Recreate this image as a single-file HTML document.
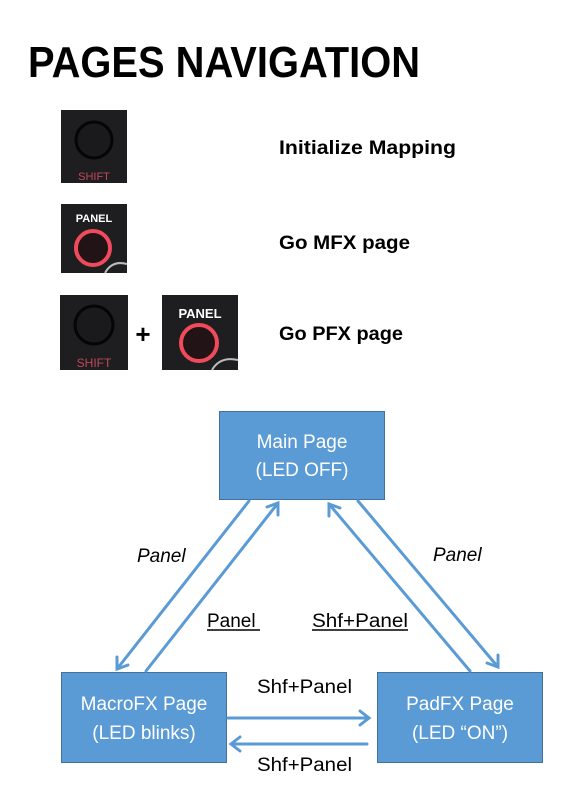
<!DOCTYPE html>
<html><head><meta charset="utf-8"><style>
html,body{margin:0;padding:0;background:#fff;}
svg{display:block;}
text{font-family:"Liberation Sans",sans-serif;}
</style></head><body>
<svg width="588" height="806" viewBox="0 0 588 806" xmlns="http://www.w3.org/2000/svg">
<defs>
<radialGradient id="red" cx="50%" cy="50%" r="50%">
<stop offset="70%" stop-color="#2a1a1c"/><stop offset="85%" stop-color="#ff5a6a"/><stop offset="100%" stop-color="#c0303f"/>
</radialGradient>
</defs>
<text x="28" y="77" font-size="44" font-weight="bold" textLength="392" lengthAdjust="spacingAndGlyphs">PAGES NAVIGATION</text>

<!-- shift 1 -->
<rect x="61" y="110" width="66" height="73" fill="#1e1e20"/>
<circle cx="94" cy="140" r="18" fill="#1a1a1c" stroke="#050505" stroke-width="3"/>
<text x="94" y="180" font-size="11" fill="#c0485a" text-anchor="middle">SHIFT</text>
<text x="279" y="154" font-size="19" font-weight="bold" textLength="177" lengthAdjust="spacingAndGlyphs">Initialize Mapping</text>

<!-- panel 1 -->
<rect x="61" y="204" width="66" height="69" fill="#1e1e20"/>
<text x="94" y="222" font-size="11" fill="#fff" text-anchor="middle" font-weight="bold">PANEL</text>
<circle cx="93" cy="248" r="17" fill="#221416" stroke="#f04a5c" stroke-width="4"/>
<path d="M105 273 Q112 260 127 264" stroke="#bbb" stroke-width="2" fill="none"/>
<text x="279" y="249" font-size="19" font-weight="bold" textLength="131" lengthAdjust="spacingAndGlyphs">Go MFX page</text>

<!-- shift 2 + panel 2 -->
<rect x="60" y="295" width="68" height="75" fill="#1e1e20"/>
<circle cx="94" cy="325" r="19" fill="#1a1a1c" stroke="#050505" stroke-width="3"/>
<text x="94" y="367" font-size="12" fill="#c0485a" text-anchor="middle">SHIFT</text>
<text x="143" y="343" font-size="26" font-weight="bold" text-anchor="middle">+</text>
<rect x="162" y="295" width="76" height="75" fill="#1e1e20"/>
<text x="200" y="318" font-size="13" fill="#fff" text-anchor="middle" font-weight="bold">PANEL</text>
<circle cx="199" cy="343" r="18" fill="#221416" stroke="#f04a5c" stroke-width="4"/>
<path d="M212 370 Q220 356 238 360" stroke="#bbb" stroke-width="2" fill="none"/>
<text x="279" y="340" font-size="19" font-weight="bold" textLength="124" lengthAdjust="spacingAndGlyphs">Go PFX page</text>

<!-- boxes -->
<g fill="#5b9bd5" stroke="#41719c" stroke-width="1">
<rect x="219.5" y="411.5" width="165" height="88"/>
<rect x="61.5" y="672.5" width="165" height="90"/>
<rect x="377.5" y="672.5" width="165" height="90"/>
</g>
<g fill="#fff" font-size="19" text-anchor="middle" font-family="'Liberation Sans',sans-serif">
<text x="302" y="448">Main Page</text>
<text x="302" y="476">(LED OFF)</text>
<text x="144" y="710">MacroFX Page</text>
<text x="144" y="739">(LED blinks)</text>
<text x="460" y="710">PadFX Page</text>
<text x="460" y="739">(LED “ON”)</text>
</g>

<!-- arrows -->
<g stroke="#5b9bd5" stroke-width="3" fill="none" stroke-linecap="round">
<line x1="249" y1="501" x2="117" y2="669"/>
<polyline points="117,657 117,669 128,665"/>
<line x1="146" y1="671" x2="278" y2="503"/>
<polyline points="267,507 278,503 278,515"/>
<line x1="470" y1="671" x2="329" y2="504"/>
<polyline points="329,516 329,504 340,508"/>
<line x1="358" y1="501" x2="498" y2="667"/>
<polyline points="487,663 498,667 498,655"/>
<line x1="228" y1="718" x2="369" y2="718"/>
<polyline points="360,711 369,718 360,725"/>
<line x1="367" y1="744" x2="231" y2="744"/>
<polyline points="240,737 231,744 240,751"/>
</g>

<g font-size="19" fill="#000">
<text x="137" y="562" font-style="italic">Panel</text>
<text x="433" y="561" font-style="italic">Panel</text>
<text x="207" y="627">Panel</text>
<line x1="207" y1="630" x2="260" y2="630" stroke="#000" stroke-width="1.5"/>
<text x="312" y="627" textLength="96" lengthAdjust="spacingAndGlyphs">Shf+Panel</text>
<line x1="312" y1="630" x2="408" y2="630" stroke="#000" stroke-width="1.5"/>
<text x="257" y="693" textLength="95" lengthAdjust="spacingAndGlyphs">Shf+Panel</text>
<text x="257" y="771" textLength="95" lengthAdjust="spacingAndGlyphs">Shf+Panel</text>
</g>
</svg>
</body></html>
